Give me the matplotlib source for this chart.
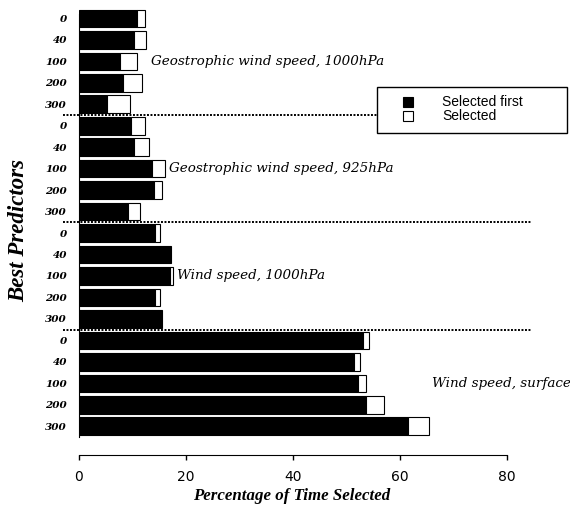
import matplotlib
matplotlib.use("Agg")
import matplotlib.pyplot as plt
import matplotlib.patches as mpatches
import numpy as np

# predictor groups and the levels inside each group
groups = ["Geostrophic wind speed, 1000hPa", "Geostrophic wind speed, 925hPa",
          "Wind speed, 1000hPa", "Wind speed, surface"]
levels = ["0", "40", "100", "200", "300"]

# % of time selected first (black) and extra % selected (white), per group
sel_first = [[10.8, 10.3, 7.6, 8.2, 5.2],
             [9.8, 10.3, 13.7, 14.1, 9.1],
             [14.2, 17.3, 17.1, 14.2, 15.6],
             [53.2, 51.5, 52.2, 53.6, 61.6]]
sel_extra = [[1.5, 2.3, 3.2, 3.6, 4.3],
             [2.5, 2.8, 2.4, 1.5, 2.3],
             [1.0, 0.0, 0.4, 0.9, 0.0],
             [1.1, 1.0, 1.4, 3.4, 3.8]]

xticks = [0, 20, 40, 60, 80]

W, H = 570, 512
fig = plt.figure(figsize=(W / 100, H / 100), dpi=100)
ax = fig.add_axes([79 / W, 1 - 437 / H, (506.7 - 79) / W, 430 / H])

first = np.concatenate(sel_first)
extra = np.concatenate(sel_extra)
ypos = np.arange(len(first))
ticklabels = levels * len(groups)

ax.barh(ypos, first, height=0.82, color='black', edgecolor='black', linewidth=0.8)
mask = extra > 0
ax.barh(ypos[mask], extra[mask], left=first[mask], height=0.82,
        color='white', edgecolor='black', linewidth=0.8)

# dotted separators between groups
for k in range(1, len(groups)):
    yy = k * len(levels) - 0.5
    ax.plot([-3.0, 84.7], [yy, yy], color='black', linestyle=(0, (1, 0.8)),
            linewidth=1.4, clip_on=False, zorder=2)

# group captions
label_pos = [(13.4, 2), (16.8, 7), (18.4, 12), (66.0, 17)]
for name, (lx, ly) in zip(groups, label_pos):
    ax.text(lx, ly, name, family='DejaVu Serif', style='italic', fontsize=9.7,
            va='center', ha='left')

ax.set_ylim(19.5, -0.53)
ax.set_xlim(0, 80)
ax.set_yticks(ypos)
ax.set_yticklabels(ticklabels, family='DejaVu Serif', style='italic',
                   fontweight='bold', fontsize=7.5)
ax.tick_params(axis='y', length=0, pad=8.6)

ax.set_xticks(xticks)
ax.set_xticklabels([str(t) for t in xticks], family='Liberation Sans', fontsize=12.5)
ax.tick_params(axis='x', direction='out', length=3.6, width=1, pad=7.5)

ax.spines['top'].set_visible(False)
ax.spines['right'].set_visible(False)
ax.spines['left'].set_bounds(19.5, -0.2)
ax.spines['bottom'].set_position(('outward', 13))

fig.text(292 / W, 1 - 496 / H, "Percentage of Time Selected", family='Liberation Serif',
         style='italic', fontweight='bold', fontsize=12.2, ha='center', va='center')
fig.text(19 / W, 1 - 231 / H, "Best Predictors", family='Liberation Serif',
         style='italic', fontweight='bold', fontsize=16.5, ha='center', va='center',
         rotation=90)

# legend, with a white square frame that hides the dotted line behind it
ax.add_patch(mpatches.Rectangle((376.7 / W, 1 - 133 / H), (567 - 376.7) / W, 46 / H,
                                transform=fig.transFigure, facecolor='white',
                                edgecolor='black', linewidth=1, clip_on=False, zorder=3))
handles = [mpatches.Patch(facecolor='black', edgecolor='black', linewidth=0.8),
           mpatches.Patch(facecolor='white', edgecolor='black', linewidth=0.8)]
leg = ax.legend(handles, ["Selected first", "Selected"], loc='upper left',
                bbox_to_anchor=(403 / W, 1 - 95.5 / H), bbox_transform=fig.transFigure,
                frameon=False, borderpad=0, borderaxespad=0, labelspacing=0.0,
                handlelength=0.7, handleheight=0.7, handletextpad=2.1,
                prop={'family': 'Liberation Sans', 'size': 10})
leg.set_zorder(5)

fig.savefig("out.png", dpi=100)
